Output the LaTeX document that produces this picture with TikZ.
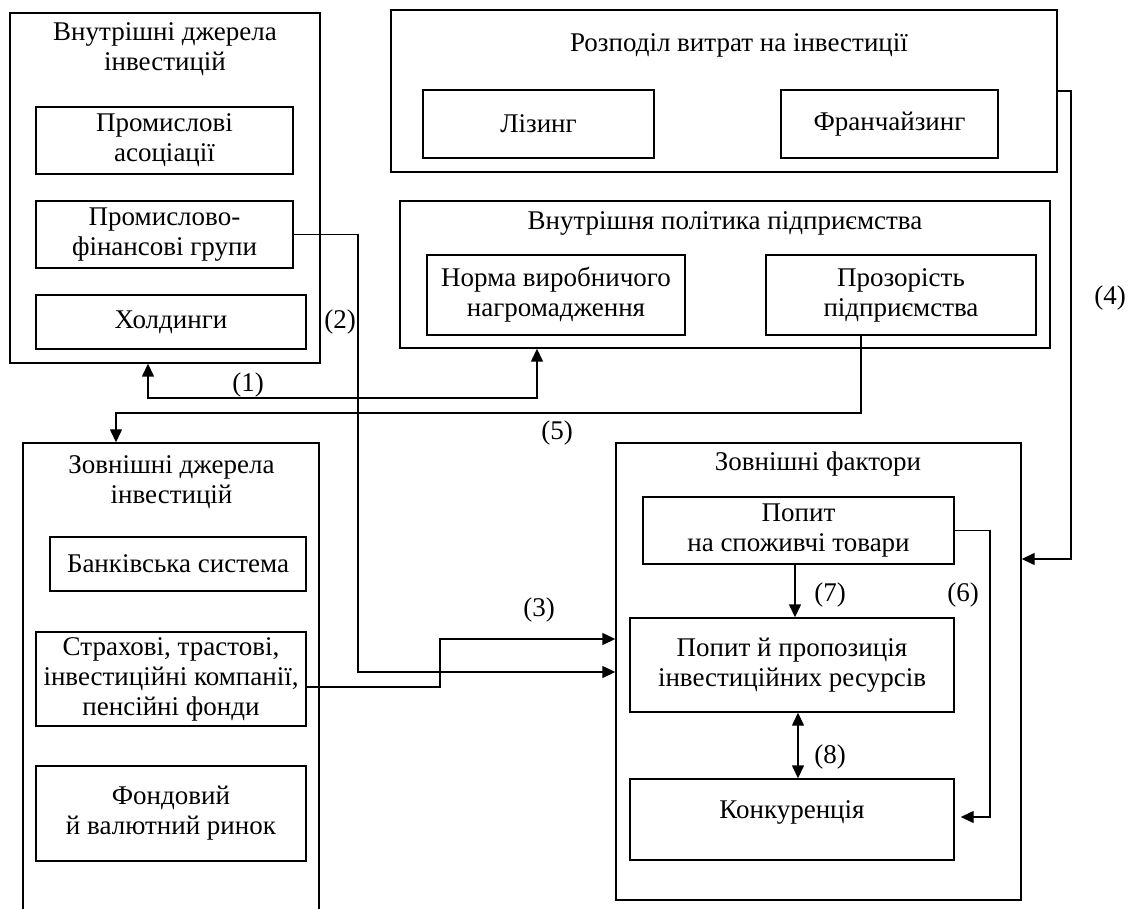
\documentclass[tikz,border=0pt]{standalone}
\usepackage{fontspec}
\setmainfont{Liberation Serif}
\usetikzlibrary{arrows.meta}
\tikzset{
 box/.style={draw, line width=1.4pt, inner sep=0pt, align=center, font=\fontsize{27}{30}\selectfont},
 txt/.style={inner sep=0pt, align=center, font=\fontsize{27}{30}\selectfont},
 conn/.style={line width=1.4pt},
 arr/.style={conn, -{Triangle[length=13pt,width=12pt]}},
 darr/.style={conn, {Triangle[length=13pt,width=12pt]}-{Triangle[length=13pt,width=12pt]}},
}
\begin{document}
\begin{tikzpicture}[x=1pt, y=-1pt]
\useasboundingbox (0,0) rectangle (1128,909);
\clip (0,0) rectangle (1128,909);
% Internal sources
\node[box, minimum width=310pt, minimum height=350pt] (A) at (165,188) {};
\node[txt] (At) at (165,49) {Внутрішні джерела\\інвестицій};
\node[box, minimum width=257pt, minimum height=67pt] (a1) at (164.5,140.5) {Промислові\\асоціації};
\node[box, minimum width=257pt, minimum height=67pt] (a2) at (164.5,234.5) {Промислово-\\фінансові групи};
\node[box, minimum width=270pt, minimum height=54pt] (a3) at (171,322) {Холдинги};
% Distribution of investment costs
\node[box, minimum width=666pt, minimum height=162pt] (T) at (724,91) {};
\node[txt] (Tt) at (739,45) {Розподіл витрат на інвестиції};
\node[box, minimum width=231pt, minimum height=68pt] (t1) at (538.5,124) {Лізинг};
\node[box, minimum width=217pt, minimum height=68pt] (t2) at (889.5,124) {Франчайзинг};
% Internal policy
\node[box, minimum width=650pt, minimum height=147pt] (P) at (725,274.5) {};
\node[txt] (Pt) at (725,223) {Внутрішня політика підприємства};
\node[box, minimum width=258pt, minimum height=80pt] (p1) at (556,295) {Норма виробничого\\нагромадження};
\node[box, minimum width=270pt, minimum height=80pt] (p2) at (901,295) {Прозорість\\підприємства};
% External sources (open at the bottom)
\node[box, minimum width=296pt, minimum height=486pt] (E) at (171,686) {};
\node[txt] (Et) at (171.5,482) {Зовнішні джерела\\інвестицій};
\node[box, minimum width=256pt, minimum height=54pt] (e1) at (178,564) {Банківська система};
\node[box, minimum width=270pt, minimum height=94pt] (e2) at (171,679) {Страхові, трастові,\\інвестиційні компанії,\\пенсійні фонди};
\node[box, minimum width=270pt, minimum height=95pt] (e3) at (171,813.5) {Фондовий\\й валютний ринок};
% External factors
\node[box, minimum width=405pt, minimum height=457pt] (F) at (818.5,671.5) {};
\node[txt] (Ft) at (818,464) {Зовнішні фактори};
\node[box, minimum width=311pt, minimum height=67pt] (f1) at (798.5,530.5) {Попит\\на споживчі товари};
\node[box, minimum width=324pt, minimum height=94pt] (f2) at (792,665) {Попит й пропозиція\\інвестиційних ресурсів};
\node[box, minimum width=324pt, minimum height=81pt, text depth=20pt] (f3) at (792,819.5) {Конкуренція};
% helper coordinates
\coordinate (k1) at (148,398);
\coordinate (k2) at (537,398);
\coordinate (k3) at (358,672);
\coordinate (k4) at (440,639);
\coordinate (k5) at (1071,559);
\coordinate (k6) at (861,413);
\coordinate (k7) at (116,413);
\coordinate (k8) at (990,817);
\coordinate (k9) at (795,0);
\coordinate (k10) at (798,0);
% connectors
\draw[darr] (A.south -| k1) -- (k1) -- (k2) -- (P.south -| k2);
\draw[arr] (a2.east) -| (k3) -- (F.west |- k3);
\draw[arr] ([yshift=-8pt]e2.east) -| (k4) -- (F.west |- k4);
\draw[arr] (T.east) -| (k5) -- (F.east |- k5);
\draw[arr] (p2.south -| k6) -- (k6) -- (k7) -- (E.north -| k7);
\draw[arr, shorten >=6pt] (f1.east) -| (k8) -- (f3.east |- k8);
\draw[arr] (f1.south -| k9) -- (f2.north -| k9);
\draw[darr] (f2.south -| k10) -- (f3.north -| k10);
% labels
\node[txt] (l1) at (248,385) {(1)};
\node[txt] (l2) at (340,322) {(2)};
\node[txt] (l3) at (539,610) {(3)};
\node[txt] (l4) at (1110,298) {(4)};
\node[txt] (l5) at (557,433) {(5)};
\node[txt] (l6) at (963,595) {(6)};
\node[txt] (l7) at (830,595) {(7)};
\node[txt] (l8) at (830,757) {(8)};
\end{tikzpicture}
\end{document}
